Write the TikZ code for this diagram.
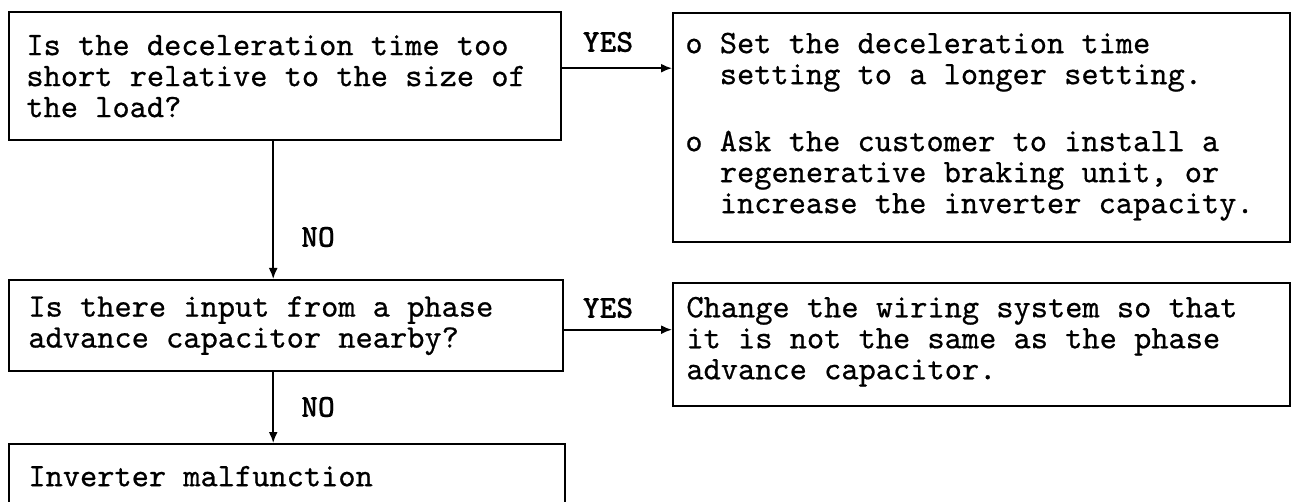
\documentclass[tikz,border=0pt]{standalone}
\usepackage{fontspec}
\newfontfamily\twfont{lmmono10-regular}[Extension=.otf, FakeBold=0.6, BoldFont=lmmonolt10-bold, BoldFeatures={FakeBold=0.3}]
\usetikzlibrary{arrows.meta}
\begin{document}
\begin{tikzpicture}[x=0.5pt,y=-0.5pt,
  box/.style={draw, line width=1.2pt, anchor=north west, inner sep=0pt},
  txt/.style={anchor=west, align=left, inner sep=0pt,
    font=\fontsize{16.4}{15.5}\selectfont\twfont},
  lbl/.style={font=\fontsize{16}{16}\selectfont\twfont\bfseries, inner sep=0pt},
  arr/.style={line width=0.9pt, -{Latex[length=5.5pt,width=4.5pt]}}]
\useasboundingbox (0,0) rectangle (1291,502);
\clip (0,0) rectangle (1291,502);
% boxes
\node[box, minimum width=276pt, minimum height=64pt] (b1) at (8,11) {};
\node[box, minimum width=308.5pt, minimum height=114.5pt] (b2) at (672,12) {};
\node[box, minimum width=277pt, minimum height=45.5pt] (b3) at (8,279) {};
\node[box, minimum width=308.5pt, minimum height=61.5pt] (b4) at (672,282) {};
\node[box, minimum width=278pt, minimum height=32pt] (b5) at (8,443) {};
% texts
\node[txt] (t1) at ([xshift=9pt]b1.west)
  {Is the deceleration time too\\short relative to the size of\\the load?};
\node[txt] (t2) at ([xshift=6.5pt,yshift=0.5pt]b2.west)
  {o Set the deceleration time\\\hspace*{1.05em}setting to a longer setting.\\[18pt]
   o Ask the customer to install a\\\hspace*{1.05em}regenerative braking unit, or\\\hspace*{1.05em}increase the inverter capacity.};
\node[txt] (t3) at ([xshift=10pt]b3.west)
  {Is there input from a phase\\advance capacitor nearby?};
\node[txt] (t4) at ([xshift=7pt,yshift=1.5pt]b4.west)
  {Change the wiring system so that\\it is not the same as the phase\\advance capacitor.};
\node[txt] (t5) at ([xshift=10pt]b5.west) {Inverter malfunction};
% connectors
\draw[arr] ([yshift=4pt]b1.east) -- ([yshift=4pt]b1.east -| b2.west);
\draw[arr] ([yshift=-2pt]b3.east) -- ([yshift=-2pt]b3.east -| b4.west);
\draw[arr] ([xshift=-6pt]b1.south) -- ([xshift=-6pt]b1.south |- b3.north);
\draw[arr] ([xshift=-6.5pt]b3.south) -- ([xshift=-6.5pt]b3.south |- b5.north);
% labels
\node[lbl] (y1) at (608,42) {YES};
\node[lbl] (y2) at (608,308) {YES};
\node[lbl] (n1) at (318,237) {NO};
\node[lbl] (n2) at (318,407) {NO};
\end{tikzpicture}
\end{document}
